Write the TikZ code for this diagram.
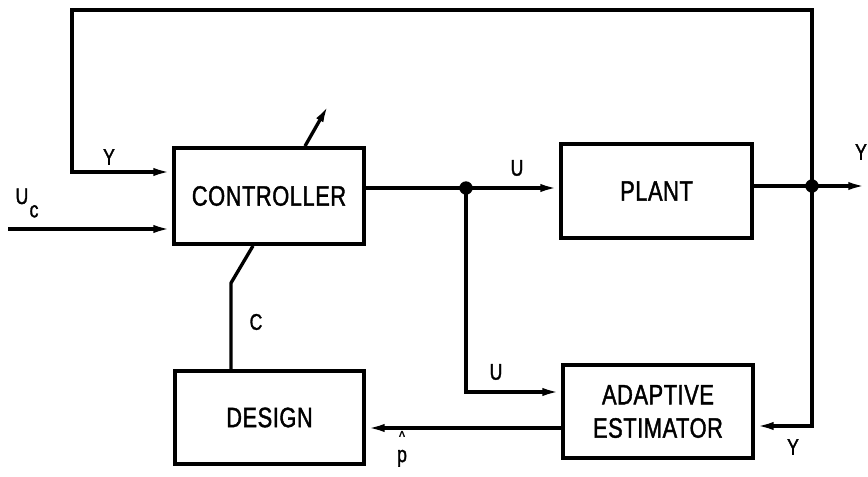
\documentclass[tikz,border=0pt]{standalone}
\usepackage{fontspec}
\setmainfont{Liberation Sans}[FakeStretch=0.78,FakeBold=1.4,LetterSpace=2]
\usepackage{tikz}
\usetikzlibrary{arrows.meta,positioning,calc}

\begin{document}
\begin{tikzpicture}[
  x=0.75pt, y=-0.75pt,
  line width=2.5pt,
  box/.style={rectangle, draw, line width=2.8pt, align=center, inner sep=0pt,
    font=\fontsize{21}{25}\selectfont},
  lbl/.style={inner sep=0pt, font=\fontsize{17}{20}\selectfont},
  arrow/.style={-{Latex[length=14pt,width=6pt]}}]

\useasboundingbox (0,0) rectangle (868,477);

\node[box, minimum width=142.5pt, minimum height=72pt] (ctrl) at (269,196) {CONTROLLER};
\node[box, minimum width=143.25pt, minimum height=70.5pt] (plant) at (656.5,191) {PLANT};
\node[box, minimum width=141.75pt, minimum height=69.75pt] (design) at (269.5,417.5) {DESIGN};
\node[box, minimum width=142.5pt, minimum height=69.75pt] (est) at (658,411.5) {ADAPTIVE\\ESTIMATOR};

% junctions and corners
\coordinate (jU) at (466,188);
\coordinate (jY) at (812,186);
\coordinate (out) at (867,186);
\coordinate (tr) at (812,10);
\coordinate (tl) at (72,10);
\coordinate (yin) at (72,172);
\coordinate (ucin) at (8,229);
\coordinate (uin) at (466,392);
\coordinate (yback) at (812,426);
\coordinate (pout) at (0,428);
\coordinate (cbend) at (231,283);
\coordinate (cslant) at (253,0);
\coordinate (tune) at (329,104);

% Arrows
\draw (ctrl.east |- jU) -- (jU);
\draw[arrow] (jU) -- (plant.west |- jU);
\draw (plant.east |- jY) -- (jY);
\draw[arrow] (jY) -- (out);
\draw[arrow] (jY) -- (tr) -- (tl) -- (yin) -- (ctrl.west |- yin);
\draw[arrow] (ucin) -- (ctrl.west |- ucin);
\draw[arrow] (jU) -- (uin) -- (est.west |- uin);
\draw[arrow] (jY) -- (yback) -- (est.east |- yback);
\draw[arrow] (est.west |- pout) -- (design.east |- pout);
\draw (design.north -| cbend) -- (cbend) -- (ctrl.south -| cslant);
\draw[arrow] ($(ctrl.north)+(36,0)$) -- (tune);

\fill (jU) circle (5pt);
\fill (jY) circle (5pt);

% labels
\node[lbl] (lY1) at (109,157) {Y};
\node[lbl] (lUc) at (27,203) {U\kern1pt\raisebox{-10pt}{c}};
\node[lbl] (lU1) at (517,168) {U};
\node[lbl] (lC) at (256,322) {C};
\node[lbl] (lU2) at (496,372) {U};
\node[lbl] (lp) at (402,456) {\ooalign{p\cr\hidewidth\raisebox{15pt}{\fontsize{12}{12}\selectfont\textasciicircum}\hidewidth\cr}};
\node[lbl] (lY2) at (793,447) {Y};
\node[lbl] (lY3) at (861,152) {Y};

\end{tikzpicture}
\end{document}
